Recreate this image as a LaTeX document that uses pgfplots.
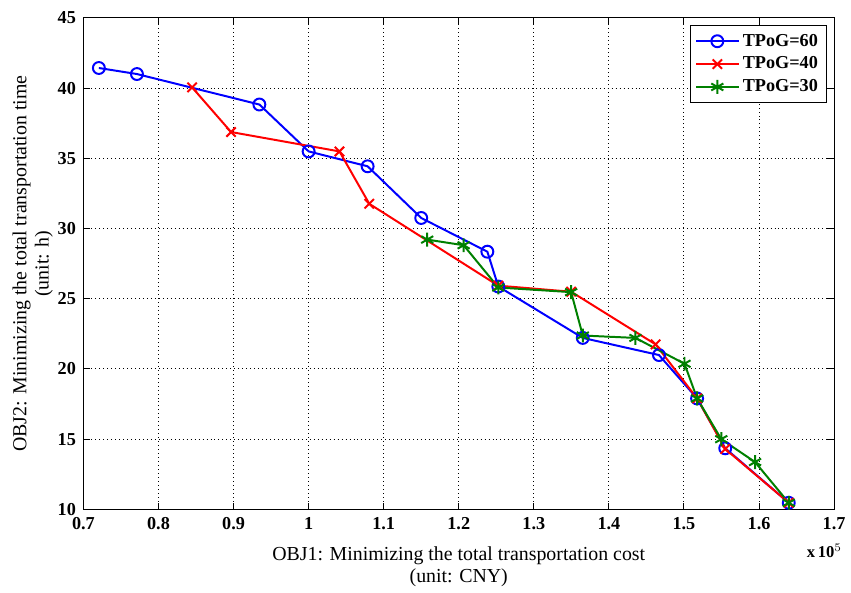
\documentclass[border=0pt]{standalone}
\usepackage{pgfplots}
\pgfplotsset{compat=1.18}
\usepackage{fontspec}
\setmainfont{Liberation Serif}
\definecolor{mgreen}{rgb}{0,0.5,0}

\begin{document}
\begin{tikzpicture}
\begin{axis}[
    name=ax,
    scale only axis,
    width=453.6pt, height=297pt,
    xmin=0.7, xmax=1.7,
    ymin=10, ymax=45,
    xtick={0.7,0.8,...,1.7},
    ytick={10,15,...,45},
    xticklabel style={/pgf/number format/fixed, /pgf/number format/precision=1, yshift=-1.5pt},
    yticklabel style={xshift=-1pt},
    ticklabel style={font=\bfseries\fontsize{11}{12}\selectfont},
    /pgf/number format/assume math mode=true,
    tick align=inside,
    major tick length=4pt,
    grid=major,
    major grid style={black, dotted, line width=0.6pt},
    axis line style={line width=0.6pt},
    every tick/.style={black, line width=0.6pt},
    xlabel={OBJ1: Minimizing the total transportation cost\\(unit: CNY)},
    ylabel={OBJ2: Minimizing the total transportation time\\(unit: h)},
    xlabel style={align=center, font=\fontsize{12}{13.5}\selectfont, yshift=-3pt},
    ylabel style={align=center, font=\fontsize{12}{13.5}\selectfont, yshift=-4pt},
    legend style={at={(rel axis cs:0.99,0.985)}, anchor=north east,
        font=\bfseries\fontsize{11}{12}\selectfont, draw=black, line width=0.5pt,
        row sep=1pt, inner sep=3pt},
    legend cell align=left,
    legend image code/.code={%
        \draw[mark repeat=2, mark phase=2, line width=1.2pt]
        plot coordinates {(0cm,0cm) (0.45cm,0cm) (0.9cm,0cm)};},
]

% TPoG=60
\addplot[blue, line width=1.2pt, mark=o, mark size=3.6pt,
    mark options={line width=1.2pt}] coordinates {
(0.7206,41.43) (0.7713,41.00) (0.9344,38.83) (1.0000,35.49)
(1.0786,34.43) (1.1500,30.75) (1.2381,28.35) (1.2527,25.87)
(1.3652,22.21) (1.4667,20.99) (1.5175,17.90) (1.5550,14.35)
(1.6396,10.47)
};
\addlegendentry{TPoG=60}

% TPoG=40
\addplot[red, line width=1.2pt, mark=x, mark size=4pt,
    mark options={line width=1.2pt}] coordinates {
(0.8448,40.05) (0.8967,36.87) (1.0411,35.49) (1.0808,31.76)
(1.2527,25.93) (1.3497,25.50) (1.4622,21.75) (1.5175,17.90)
(1.5550,14.30) (1.6396,10.47)
};
\addlegendentry{TPoG=40}

% TPoG=30
\addplot[mgreen, line width=1.2pt, mark=asterisk, mark size=4.2pt,
    mark options={line width=1.2pt}] coordinates {
(1.1580,29.21) (1.2065,28.81) (1.2527,25.80) (1.3497,25.47)
(1.3652,22.38) (1.4354,22.21) (1.5007,20.37) (1.5175,17.90)
(1.5497,15.00) (1.5947,13.37) (1.6396,10.47)
};
\addlegendentry{TPoG=30}

\end{axis}
\node[anchor=west, font=\bfseries\fontsize{10}{12}\selectfont]
    at ([xshift=-20pt,yshift=-25pt]ax.south east) {x\,10$^{5}$};
\path ([xshift=-50.4pt,yshift=-44.4pt]ax.south west)
    rectangle ([xshift=6.6pt,yshift=10.8pt]ax.north east);
\end{tikzpicture}
\end{document}
